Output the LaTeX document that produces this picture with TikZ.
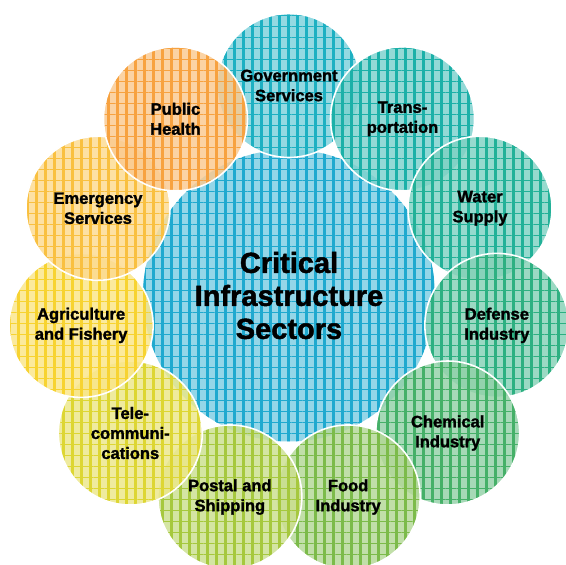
\documentclass[tikz,border=0pt]{standalone}
\usepackage{fontspec}
\setmainfont{Liberation Sans}[BoldFeatures={FakeBold=1.6}]
\usetikzlibrary{patterns.meta}
\definecolor{hub}{HTML}{1FA9CF}
\definecolor{cgov}{HTML}{1DB0C2}
\definecolor{ctrans}{HTML}{1BB0A8}
\definecolor{cwater}{HTML}{22B198}
\definecolor{cdefense}{HTML}{2DB081}
\definecolor{cchem}{HTML}{45B068}
\definecolor{cfood}{HTML}{7CBB4A}
\definecolor{cpostal}{HTML}{A6C83E}
\definecolor{ctele}{HTML}{DDD633}
\definecolor{cagri}{HTML}{F7D331}
\definecolor{cemerg}{HTML}{F9C040}
\definecolor{chealth}{HTML}{F7A240}
\tikzset{
  plaid/.style={path picture={
    \fill[pattern={Lines[angle=90,distance=9pt,line width=3pt]},pattern color=#1,fill opacity=.38]
      (path picture bounding box.south west) rectangle (path picture bounding box.north east);
    \fill[pattern={Lines[angle=0,distance=11pt,line width=.7pt]},pattern color=#1,fill opacity=.3]
      (path picture bounding box.south west) rectangle (path picture bounding box.north east);}},
  sector/.style={circle,minimum size=144pt,inner sep=0pt,fill=#1!58!white,fill opacity=.82,
    text opacity=1,draw=white,draw opacity=1,line width=1.6pt,plaid=#1,align=center,
    font=\bfseries\fontsize{16.5}{20}\selectfont},
}

\begin{document}
\begin{tikzpicture}[x=1pt,y=1pt]
\useasboundingbox (-289,-269.5) rectangle (277,295.5);
\node[sector=hub,minimum size=292pt,draw=none,font=\bfseries\fontsize{29}{33}\selectfont] (hub) at (0,0)
  {Critical\\Infrastructure\\Sectors};
\foreach \nm/\col/\txt [count=\i from 0] in {
  gov/cgov/{Government\\Services},
  trans/ctrans/{Trans-\\portation},
  water/cwater/{Water\\Supply},
  defense/cdefense/{Defense\\Industry},
  chem/cchem/{Chemical\\Industry},
  food/cfood/{Food\\Industry},
  postal/cpostal/{Postal and\\Shipping},
  tele/ctele/{Tele-\\communi-\\cations},
  agri/cagri/{Agriculture\\and Fishery},
  emerg/cemerg/{Emergency\\Services},
  health/chealth/{Public\\Health}}
  \node[sector=\col] (\nm) at ({90-\i*360/11}:210) {\txt};
\end{tikzpicture}
\end{document}
